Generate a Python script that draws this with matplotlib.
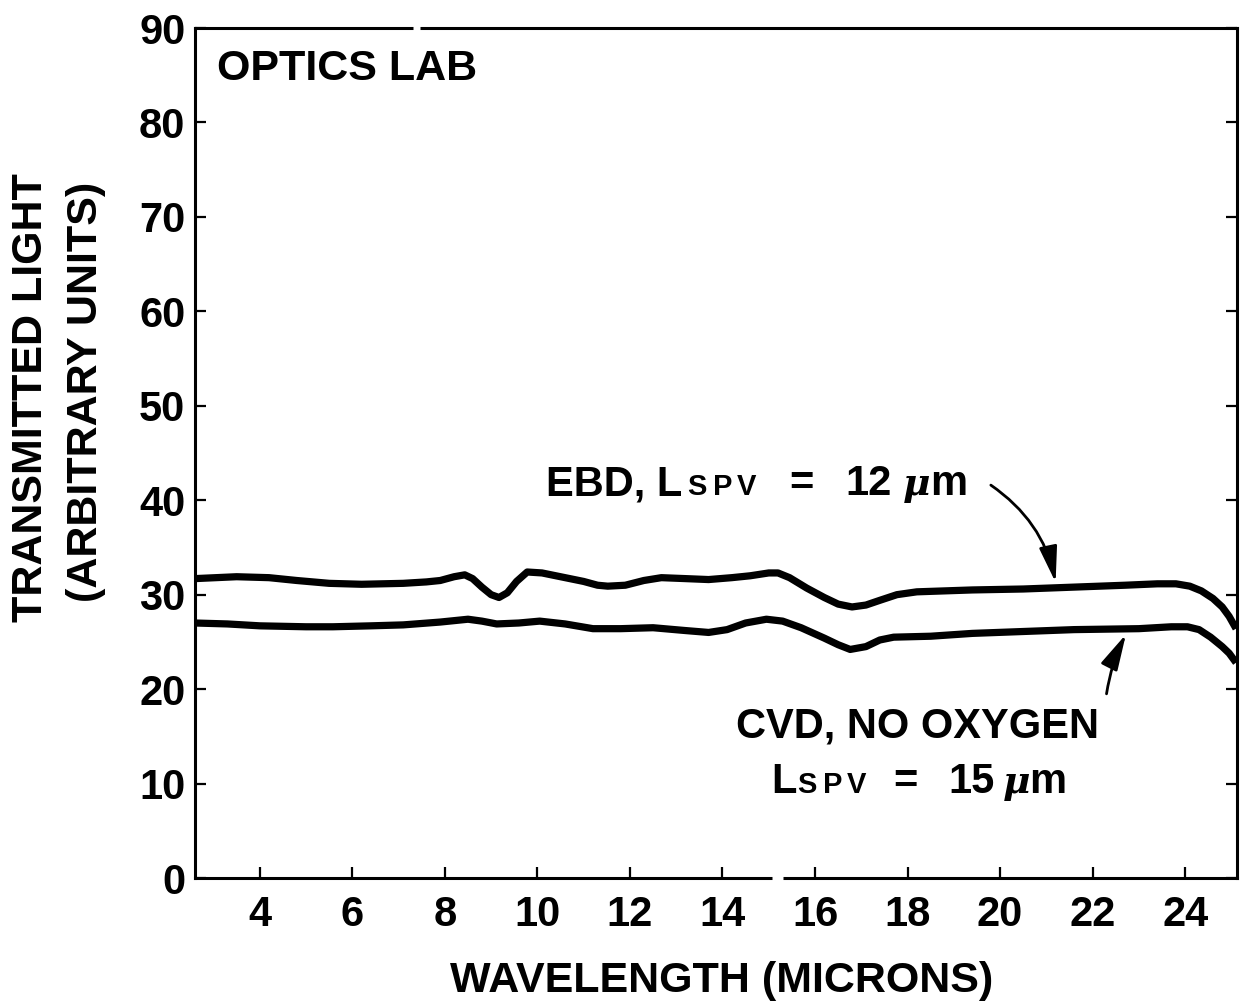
import matplotlib
matplotlib.use("Agg")
import matplotlib.pyplot as plt
from matplotlib.lines import Line2D

# ---- data ----
ebd_wl = [2.6, 3.5, 4.2, 4.8, 5.5, 6.2, 7.1, 7.6, 7.9, 8.2, 8.43, 8.6, 8.8, 9.0,
          9.17, 9.35, 9.55, 9.78, 10.1, 10.6, 11.0, 11.3, 11.52, 11.9, 12.3,
          12.68, 13.2, 13.7, 14.2, 14.6, 15.0, 15.2, 15.45, 15.82, 16.2, 16.5,
          16.8, 17.1, 17.4, 17.77, 18.2, 18.8, 19.4, 20.5, 21.6, 22.7, 23.4,
          23.8, 24.1, 24.35, 24.6, 24.8, 24.95, 25.1]
ebd_val = [31.7, 31.9, 31.8, 31.5, 31.2, 31.1, 31.2, 31.35, 31.5, 31.9, 32.1, 31.7, 30.8, 30.0,
           29.7, 30.2, 31.4, 32.4, 32.3, 31.8, 31.4, 31.0, 30.9, 31.0, 31.5,
           31.8, 31.7, 31.6, 31.8, 32.0, 32.3, 32.3, 31.8, 30.7, 29.7, 29.0,
           28.7, 28.9, 29.4, 30.0, 30.3, 30.4, 30.5, 30.6, 30.8, 31.0, 31.15,
           31.15, 30.9, 30.4, 29.6, 28.7, 27.7, 26.4]

cvd_wl = [2.6, 3.3, 4.0, 5.0, 5.58, 6.4, 7.1, 7.9, 8.5, 8.8, 9.12, 9.6, 10.05,
          10.6, 11.2, 11.8, 12.5, 13.2, 13.7, 14.1, 14.5, 14.95, 15.3, 15.7,
          16.2, 16.5, 16.76, 17.1, 17.4, 17.7, 18.5, 19.4, 20.5, 21.6, 23.0,
          23.7, 24.05, 24.3, 24.55, 24.8, 24.95, 25.1]
cvd_val = [27.0, 26.9, 26.7, 26.6, 26.6, 26.7, 26.8, 27.1, 27.4, 27.2, 26.9, 27.0, 27.2,
           26.9, 26.4, 26.4, 26.5, 26.2, 26.0, 26.3, 27.0, 27.4, 27.2, 26.5,
           25.4, 24.7, 24.2, 24.5, 25.2, 25.5, 25.6, 25.9, 26.1, 26.3, 26.4,
           26.6, 26.6, 26.3, 25.5, 24.5, 23.8, 22.8]

x_ticks = [4, 6, 8, 10, 12, 14, 16, 18, 20, 22, 24]
y_ticks = [0, 10, 20, 30, 40, 50, 60, 70, 80, 90]

W, H = 1244, 1007
FONT = "Liberation Sans"
plt.rcParams["font.family"] = [FONT, "DejaVu Sans"]
plt.rcParams["font.weight"] = "bold"
plt.rcParams["mathtext.fontset"] = "dejavuserif"

fig = plt.figure(figsize=(W / 100, H / 100), dpi=100)
AX_L, AX_R, AX_T, AX_B = 195, 1237, 28, 878
ax = fig.add_axes([AX_L / W, 1 - AX_B / H, (AX_R - AX_L) / W, (AX_B - AX_T) / H])

ax.plot(ebd_wl, ebd_val, color="black", lw=5.2, solid_capstyle="butt", solid_joinstyle="round")
ax.plot(cvd_wl, cvd_val, color="black", lw=5.2, solid_capstyle="butt", solid_joinstyle="round")

ax.set_xlim(2.6, 25.12)
ax.set_ylim(0, 90)
ax.set_xticks(x_ticks)
ax.set_yticks(y_ticks)
for s in ax.spines.values():
    s.set_linewidth(2.2)
ax.tick_params(axis="x", direction="in", length=8, width=1.6, pad=12,
               labelsize=30, top=False)
ax.tick_params(axis="y", direction="in", length=8, width=1.6, pad=7,
               labelsize=30, right=True)
for lab in ax.get_xticklabels() + ax.get_yticklabels():
    lab.set_fontweight("bold")

# small breaks in the frame, as in the scanned original
def frac(xp):
    return (xp - AX_L) / (AX_R - AX_L)
for (a, b, yy) in [(412.7, 420.0, 1.0), (771.7, 783.3, 0.0)]:
    ax.add_line(Line2D([frac(a), frac(b)], [yy, yy], transform=ax.transAxes,
                       color="white", lw=5, solid_capstyle="butt", clip_on=False,
                       zorder=5))

def px(x, y):
    return x / W, 1 - y / H

# title inside
fig.text(*px(217, 80), "OPTICS LAB", fontsize=31, fontweight="bold", va="baseline", ha="left")

# axis labels
fig.text(*px(722, 992), "WAVELENGTH (MICRONS)", fontsize=31, fontweight="bold",
         ha="center", va="baseline")
fig.text(*px(31, 398), "TRANSMITTED LIGHT", fontsize=31, fontweight="bold",
         rotation=90, ha="center", va="center")
fig.text(*px(86, 392), "(ARBITRARY UNITS)", fontsize=31, fontweight="bold",
         rotation=90, ha="center", va="center")

def small_caps(x0, yb, letters, xs):
    for ch, dx in zip(letters, xs):
        fig.text(*px(x0 + dx, yb), ch, fontsize=21, fontweight="bold", va="baseline")

# EBD label, pieces on a common baseline
yb = 495
fig.text(*px(546, yb), "EBD, L", fontsize=30, fontweight="bold", va="baseline")
small_caps(687, yb, "SPV", [0, 26, 50])
fig.text(*px(789, yb), "=", fontsize=30, fontweight="bold", va="baseline")
fig.text(*px(845, yb), "12", fontsize=30, fontweight="bold", va="baseline")
fig.text(*px(902, yb), r"$\mu$", fontsize=27, va="baseline")
fig.text(*px(930, yb), "m", fontsize=30, fontweight="bold", va="baseline")

# CVD label
fig.text(*px(918, 737), "CVD, NO OXYGEN", fontsize=30, fontweight="bold",
         ha="center", va="baseline")
yb2 = 793
fig.text(*px(771, yb2), "L", fontsize=30, fontweight="bold", va="baseline")
small_caps(797, yb2, "SPV", [0, 26, 50])
fig.text(*px(893, yb2), "=", fontsize=30, fontweight="bold", va="baseline")
fig.text(*px(948, yb2), "15", fontsize=30, fontweight="bold", va="baseline")
fig.text(*px(1002, yb2), r"$\mu$", fontsize=27, va="baseline")
fig.text(*px(1029, yb2), "m", fontsize=30, fontweight="bold", va="baseline")

# arrows
ax.annotate("", xy=(21.2, 31.3), xytext=(19.8, 41.6),
            arrowprops=dict(arrowstyle="-|>,head_length=1.0,head_width=0.25",
                            connectionstyle="arc3,rad=-0.2", color="black",
                            lw=2.0, mutation_scale=22, shrinkA=0, shrinkB=0))
ax.annotate("", xy=(22.72, 25.8), xytext=(22.3, 19.5),
            arrowprops=dict(arrowstyle="-|>,head_length=1.0,head_width=0.25",
                            connectionstyle="arc3,rad=-0.08", color="black",
                            lw=2.0, mutation_scale=22, shrinkA=0, shrinkB=0))

fig.savefig("out.png", dpi=100)
